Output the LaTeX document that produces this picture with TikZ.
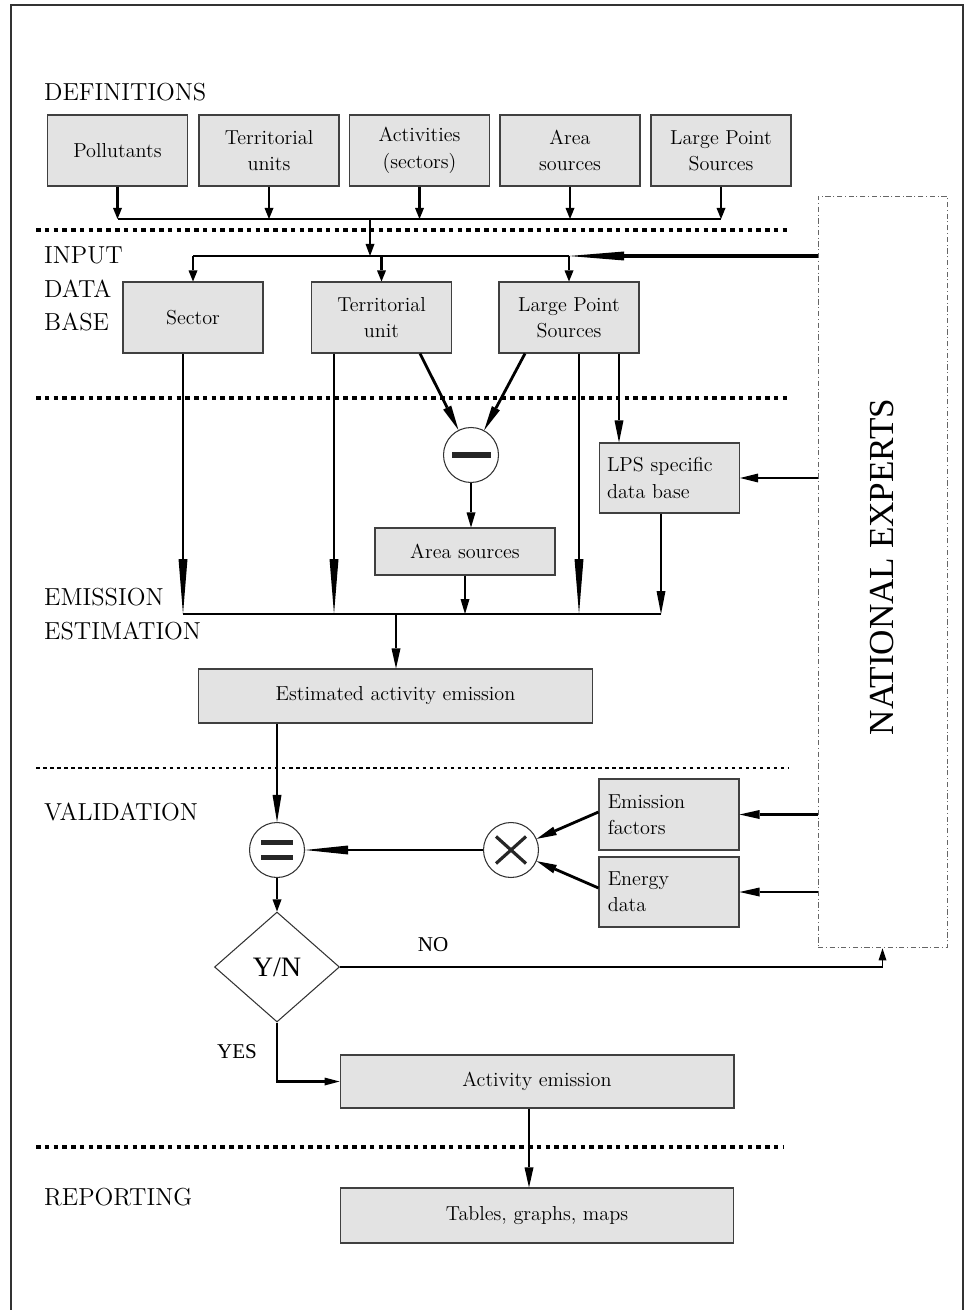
\documentclass[tikz,border=0pt]{standalone}
\usepackage{fontspec}
\newfontfamily\timesfont{Liberation Serif}
\usetikzlibrary{arrows.meta,shapes.geometric}

\tikzset{
    box/.style={draw=black!75, fill=black!11, line width=0.6pt, align=center,
        font=\fontsize{11.5}{15}\selectfont, inner sep=1pt,
        minimum width=2.8cm, minimum height=1.42cm},
    stage/.style={anchor=west, align=left, font=\fontsize{14}{19}\selectfont},
    op/.style={draw=black!80, circle, fill=white, line width=0.6pt,
        minimum size=1.1cm, inner sep=0pt},
    arr/.style={line width=1.6pt, -{Triangle[length=#1, width=1.8mm, line width=0pt]}},
    arr/.default=2.4mm,
    bus/.style={line width=1.1pt},
    sep/.style={line width=2.2pt, dash pattern=on 2.6pt off 2.4pt},
}

\begin{document}
\begin{tikzpicture}[x=0.02cm, y=-0.02cm]
    \useasboundingbox (0,0) rectangle (967,1310);
    % Frame, open at the bottom
    \draw[line width=1.2pt, black!80] (11,1310) -- (11,5) -- (963,5) -- (963,1310);

    % Stage labels
    \node[stage] (defs) at (38,92) {DEFINITIONS};
    \node[stage] (input) at (38,289) {INPUT\\DATA\\BASE};
    \node[stage] (estim) at (38,614) {EMISSION\\ESTIMATION};
    \node[stage] (valid) at (38,812) {VALIDATION};
    \node[stage] (report) at (38,1197) {REPORTING};

    % Separators between the stages
    \draw[sep] (36,230) -- (790,230);
    \draw[sep] (36,398) -- (790,398);
    \draw[line width=0.6pt, dash pattern=on 2pt off 2pt] (36,768) -- (788,768);
    \draw[sep] (36,1147) -- (784,1147);

    % National experts
    \node[draw=black!60, line width=0.5pt, dash pattern=on 3pt off 1.5pt on 0.6pt off 1.5pt,
        minimum width=2.58cm, minimum height=15.04cm] (ne) at (882.5,572) {};
    \node[rotate=90, font=\timesfont\fontsize{20}{24}\selectfont] (netext) at (882,567) {NATIONAL EXPERTS};

    % Definitions
    \node[box] (pol) at (117.5,150.5) {Pollutants};
    \node[box] (terr) at (269,150.5) {Territorial\\units};
    \node[box] (act) at (419.5,150.5) {Activities\\(sectors)};
    \node[box] (area) at (570,150.5) {Area\\sources};
    \node[box] (lps) at (721,150.5) {Large Point\\Sources};

    % Input data base
    \node[box] (sector) at (193,317.5) {Sector};
    \node[box] (tunit) at (381.5,317.5) {Territorial\\unit};
    \node[box] (lps2) at (569,317.5) {Large Point\\Sources};

    % Emission estimation
    \node[op, path picture={\fill[black!85] ([xshift=-0.39cm,yshift=-0.06cm]path picture bounding box.center)
        rectangle ++(0.78cm,0.12cm);}] (minus) at (471,455) {};
    \node[box, minimum width=3.6cm, minimum height=0.94cm] (areasrc) at (465,551.5) {Area sources};
    \node[box, text width=2.5cm, align=left, minimum height=1.4cm] (lpsdb) at (669.5,478) {LPS specific\\data base};
    \node[box, minimum width=7.9cm, minimum height=1.08cm] (est) at (395.5,696) {Estimated activity emission};

    % Validation
    \node[op, path picture={
        \fill[black!85] ([xshift=-0.32cm,yshift=0.1cm]path picture bounding box.center) rectangle ++(0.64cm,0.1cm);
        \fill[black!85] ([xshift=-0.32cm,yshift=-0.2cm]path picture bounding box.center) rectangle ++(0.64cm,0.1cm);}]
        (eq) at (277,850) {};
    \node[op, path picture={
        \draw[line width=1.8pt, black!85]
            ([shift={(-0.3cm,-0.27cm)}]path picture bounding box.center) -- ([shift={(0.3cm,0.27cm)}]path picture bounding box.center)
            ([shift={(-0.3cm,0.27cm)}]path picture bounding box.center) -- ([shift={(0.3cm,-0.27cm)}]path picture bounding box.center);}]
        (cross) at (511,850) {};
    \node[box, text width=2.45cm, align=left] (ef) at (669,814.5) {Emission\\factors};
    \node[box, text width=2.45cm, align=left, minimum height=1.4cm] (ed) at (669,892) {Energy\\data};
    \node[draw=black!80, diamond, line width=0.6pt, minimum width=2.5cm, minimum height=2.2cm,
        inner sep=0pt, font=\timesfont\fontsize{16}{18}\selectfont] (yn) at (277,967) {Y/N};
    \node[font=\timesfont\fontsize{12}{14}\selectfont] (no) at (433,945) {NO};
    \node[font=\timesfont\fontsize{12}{14}\selectfont] (yes) at (237,1052) {YES};
    \node[box, minimum width=7.88cm, minimum height=1.06cm] (actem) at (537,1081.5) {Activity emission};

    % Reporting
    \node[box, minimum width=7.86cm, minimum height=1.1cm] (tables) at (537,1215.5) {Tables, graphs, maps};

    % Definitions feed the input data base
    \coordinate (top) at (370,219);
    \coordinate (mid) at (370,256);
    \foreach \b in {pol,terr,act,area,lps}
        \draw[arr=2.2mm] (\b.south) -- (\b.south |- top);
    \draw[bus] (pol.south |- top) -- (lps.south |- top);
    \draw[arr] (top) -- (mid);
    \draw[bus] (sector.north |- mid) -- (lps2.north |- mid);
    \foreach \b in {sector,tunit,lps2}
        \draw[arr=2.2mm] (\b.north |- mid) -- (\b.north);
    \draw[arr=11mm, line width=2pt] (ne.west |- mid) -- (lps2.north |- mid);

    % Input data base to emission estimation
    \coordinate (low) at (396,614);
    \draw[arr=11mm] ([xshift=-2mm]sector.south) -- ([xshift=-2mm]sector.south |- low);
    \draw[arr=11mm] ([xshift=-9.5mm]tunit.south) -- ([xshift=-9.5mm]tunit.south |- low);
    \draw[arr=5mm] ([xshift=7.7mm]tunit.south) -- (minus);
    \draw[arr=5mm] ([xshift=-8.8mm]lps2.south) -- (minus);
    \draw[arr=11mm] ([xshift=2mm]lps2.south) -- ([xshift=2mm]lps2.south |- low);
    \draw[arr=4.4mm] ([xshift=10mm]lps2.south) -- ([xshift=10mm]lps2.south |- lpsdb.north);
    \draw[arr=3mm] (minus) -- (minus |- areasrc.north);
    \draw[arr=3mm] (areasrc.south) -- (areasrc.south |- low);
    \draw[arr=4.6mm] ([xshift=-1.7mm]lpsdb.south) -- ([xshift=-1.7mm]lpsdb.south |- low);
    \draw[arr=3.6mm] (ne.west |- lpsdb.east) -- (lpsdb.east);
    \draw[bus] ([xshift=-2mm]sector.south |- low) -- ([xshift=-1.7mm]lpsdb.south |- low);
    \draw[arr=4mm] (low) -- (low |- est.north);

    % Validation loop
    \draw[arr=5.4mm] (eq |- est.south) -- (eq);
    \draw[arr=8.6mm] (cross) -- (eq);
    \draw[arr=4mm] ([yshift=0.05cm]ef.west) -- (cross);
    \draw[arr=4mm] ([yshift=0.08cm]ed.west) -- (cross);
    \draw[arr=4mm] (ne.west |- ef.west) -- (ef.east);
    \draw[arr=4mm] (ne.west |- ed.west) -- (ed.east);
    \draw[arr=2.4mm] (eq) -- (yn.north);
    \draw[line width=1pt, -{Triangle[length=2.4mm, width=1.6mm, line width=0pt]}] (yn.east) -| (ne.south);
    \draw[line width=1.2pt, -{Triangle[length=3mm, width=1.6mm, line width=0pt]}] (yn.south) |- (actem.west);
    \draw[arr=4mm] ([xshift=-1.6mm]actem.south) -- ([xshift=-1.6mm]actem.south |- tables.north);
\end{tikzpicture}
\end{document}
